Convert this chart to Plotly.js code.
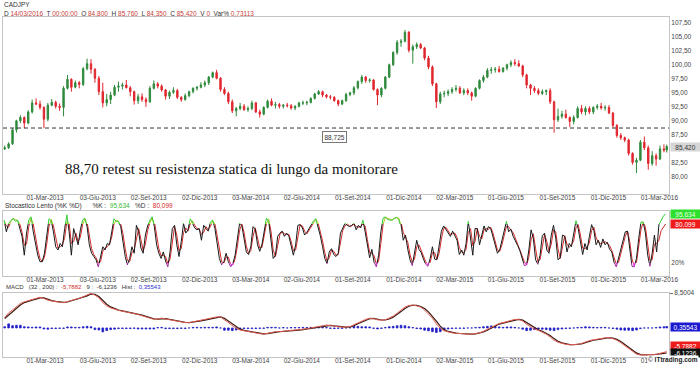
<!DOCTYPE html>
<html><head><meta charset="utf-8">
<script src="https://cdn.plot.ly/plotly-3.0.1.min.js"></script>
<style>html,body{margin:0;padding:0;background:#fff}#chart{width:700px;height:365px}</style>
</head><body><div id="chart"></div>
<script>
// ---------- DATA ----------
const symbol = 'CADJPY';
const weekStart = '2012-12-19';      // mid-week date of first weekly bar
const lastBarDate = '2016-03-14';
const open = [
85.0,85.2,85.9,88.4,90.0,90.6,89.6,91.6,93.2,93.0,
92.4,90.3,92.8,93.3,92.6,92.4,95.8,97.4,96.0,96.8,
96.5,99.3,100.2,99.2,97.6,95.2,93.2,93.8,94.6,96.0,
96.2,96.4,95.9,95.2,93.6,94.3,93.8,93.4,95.8,96.6,
96.2,95.5,94.4,95.1,95.4,94.2,93.8,94.5,95.2,95.8,
96.0,96.4,96.8,97.8,98.6,97.6,95.6,94.9,93.4,91.8,
92.2,92.6,92.0,92.2,93.2,91.6,91.2,92.4,93.5,92.8,
92.9,92.6,92.8,92.7,92.3,92.6,93.2,93.2,93.3,94.0,
94.8,95.2,94.6,94.3,94.2,93.6,93.0,93.6,94.7,95.0,
95.9,97.0,97.8,97.2,97.3,95.6,94.6,95.8,97.8,100.0,
102.2,104.0,104.2,105.8,102.6,103.2,103.6,103.0,101.2,99.6,
96.6,93.4,94.8,94.9,95.2,95.6,95.8,95.0,95.4,95.0,
94.4,95.8,97.2,97.8,99.0,99.1,99.2,98.8,99.4,100.0,
100.4,100.2,99.8,98.2,96.4,95.8,95.4,94.9,95.2,95.4,
93.4,90.2,90.8,91.2,90.6,89.9,90.6,92.2,91.6,92.2,
91.6,92.4,92.6,92.3,92.4,91.4,89.2,87.4,87.0,86.6,
84.2,82.6,83.0,86.2,85.2,82.4,83.8,83.2,85.0,84.8];
const high = [
85.6,86.2,88.7,90.2,91.0,90.8,91.9,93.8,94.0,93.6,
92.6,93.2,93.9,93.6,93.1,96.2,98.2,97.6,97.2,97.1,
99.6,101.1,101.0,99.4,98.0,96.8,94.8,95.2,96.4,97.0,
96.8,97.3,96.2,95.4,94.8,94.9,94.2,96.2,97.2,96.9,
96.5,95.7,95.4,96.0,95.7,94.4,94.9,95.4,96.0,96.2,
96.9,97.2,98.0,98.8,99.1,97.8,96.0,95.2,93.8,92.5,
93.2,93.0,92.6,93.6,93.4,92.0,92.6,93.8,94.0,93.4,
93.2,93.0,93.2,93.0,92.8,93.4,93.6,93.6,94.2,95.0,
95.5,95.4,94.8,94.6,94.4,93.8,93.8,95.0,95.2,96.2,
97.2,98.2,98.0,97.6,97.4,95.8,96.0,98.0,100.2,102.4,
104.4,104.6,106.2,106.0,103.6,104.0,103.9,103.2,101.6,99.9,
96.8,95.2,95.4,95.6,96.0,96.4,96.2,95.8,95.8,95.2,
96.0,97.4,98.2,99.4,99.6,99.6,99.8,99.6,100.2,100.8,
101.0,100.8,100.0,98.4,96.6,96.2,95.8,95.6,95.6,95.8,
93.6,92.2,91.8,92.0,90.8,91.0,92.6,92.8,92.6,92.6,
92.6,93.0,93.2,92.8,92.8,91.6,89.4,87.8,87.2,86.8,
84.4,83.4,86.6,87.2,85.6,84.6,84.2,85.6,85.8,85.76];
const low = [
84.8,85.0,85.7,87.9,89.6,88.7,89.4,91.3,92.8,92.0,
88.7,89.9,92.6,92.2,91.8,90.8,95.6,95.2,95.8,95.8,
96.2,99.0,98.4,96.8,94.6,92.4,92.6,93.0,94.4,95.2,
95.6,95.8,94.4,92.9,93.0,93.4,92.5,93.2,95.6,95.8,
95.2,93.8,93.9,94.8,93.9,93.4,93.6,94.2,94.9,95.4,
95.8,96.0,96.4,97.6,97.4,95.2,94.6,93.0,91.4,90.8,
91.9,91.8,91.6,91.9,91.4,90.6,91.0,92.2,92.6,92.2,
92.2,92.2,92.4,92.0,91.9,92.4,92.8,92.8,93.1,93.8,
94.6,94.2,94.0,93.8,93.4,92.6,92.8,93.4,94.4,94.6,
95.6,96.6,96.8,96.8,95.4,92.8,94.2,95.6,97.6,99.8,
101.8,103.2,104.0,102.2,100.2,102.8,102.8,100.8,99.2,96.2,
92.3,93.0,94.2,94.4,94.8,95.2,94.8,94.6,94.6,93.6,
94.2,95.6,96.8,97.6,98.4,98.6,98.6,98.6,99.0,99.6,
99.8,99.6,97.8,95.8,94.6,95.0,94.6,94.6,94.6,93.0,
87.9,89.8,90.4,90.4,88.9,89.4,90.4,91.2,91.0,91.2,
91.2,92.0,92.0,91.8,91.2,88.8,87.0,86.6,86.2,83.8,
82.2,80.7,82.8,84.8,81.3,82.0,82.0,83.0,84.4,84.35];
const close = [
85.2,85.9,88.4,90.0,90.6,89.6,91.6,93.2,93.0,92.4,
90.3,92.8,93.3,92.6,92.4,95.8,97.4,96.0,96.8,96.5,
99.3,100.2,99.2,97.6,95.2,93.2,93.8,94.6,96.0,96.2,
96.4,95.9,95.2,93.6,94.3,93.8,93.4,95.8,96.6,96.2,
95.5,94.4,95.1,95.4,94.2,93.8,94.5,95.2,95.8,96.0,
96.4,96.8,97.8,98.6,97.6,95.6,94.9,93.4,91.8,92.2,
92.6,92.0,92.2,93.2,91.6,91.2,92.4,93.5,92.8,92.9,
92.6,92.8,92.7,92.3,92.6,93.2,93.2,93.3,94.0,94.8,
95.2,94.6,94.3,94.2,93.6,93.0,93.6,94.7,95.0,95.9,
97.0,97.8,97.2,97.3,95.6,94.6,95.8,97.8,100.0,102.2,
104.0,104.2,105.8,102.6,103.2,103.6,103.0,101.2,99.6,96.6,
93.4,94.8,94.9,95.2,95.6,95.8,95.0,95.4,95.0,94.4,
95.8,97.2,97.8,99.0,99.1,99.2,98.8,99.4,100.0,100.4,
100.2,99.8,98.2,96.4,95.8,95.4,94.9,95.2,95.4,93.4,
90.2,90.8,91.2,90.6,89.9,90.6,92.2,91.6,92.2,91.6,
92.4,92.6,92.3,92.4,91.4,89.2,87.4,87.0,86.6,84.2,
82.6,83.0,86.2,85.2,82.4,83.8,83.2,85.0,84.8,85.42];

const stochStart = '2012-12-18';
const stochStepDays = 4;
const stochK = [
86,68,81,86,89,84,86,73,61,32,
66,86,91,68,50,32,22,22,35,63,
88,85,68,45,40,50,45,73,94,68,
32,73,58,48,71,86,89,76,48,35,
30,25,14,30,45,40,50,48,71,88,
84,84,76,53,30,17,27,45,35,78,
68,43,35,63,77,86,91,76,48,35,
27,37,23,14,37,73,78,48,30,53,
81,66,71,88,81,74,71,73,55,78,
73,69,83,86,73,50,27,17,22,35,
22,14,19,32,58,81,78,55,37,33,
45,76,72,48,38,49,73,89,84,53,
27,32,61,66,69,61,66,61,45,32,
48,78,79,74,63,67,73,79,85,88,
76,62,45,27,19,37,42,33,30,35,
66,73,81,78,76,78,81,71,78,74,
86,68,44,28,41,21,14,32,68,89,
91,87,86,86,89,90,87,79,55,63,
41,25,16,35,55,41,36,26,18,15,
27,45,26,25,45,69,77,72,66,61,
69,62,55,33,40,32,50,84,61,32,
73,73,48,65,77,68,76,73,59,45,
35,40,55,68,84,68,72,61,55,47,
39,27,16,17,40,71,58,25,18,32,
62,66,40,35,63,78,58,25,28,63,
61,37,50,45,63,85,73,52,33,50,
40,61,79,70,48,55,44,57,48,52,
41,37,21,14,27,41,54,68,69,37,
15,14,27,58,83,83,66,32,15,35,
63,37,79,86,92,95.634];
const stochD = [
84,77,75,84,88,87,85,80,67,47,
49,76,89,80,59,41,27,22,29,49,
76,87,77,57,43,45,48,59,84,81,
50,53,66,53,60,79,88,83,62,42,
33,28,20,22,38,43,45,49,60,80,
86,84,80,65,42,24,22,36,40,57,
73,56,39,49,70,82,89,84,62,42,
31,32,30,19,26,55,76,63,39,42,
67,74,69,80,85,78,73,72,64,67,
76,71,76,85,80,62,39,22,20,29,
29,18,17,26,45,70,80,67,46,35,
39,61,74,60,43,44,61,81,87,69,
40,30,47,64,68,65,64,64,53,39,
40,63,79,77,69,65,70,76,82,87,
82,69,54,36,23,28,40,38,32,33,
51,70,77,80,77,77,80,76,75,76,
80,77,56,36,35,31,18,23,50,79,
90,89,87,86,88,90,89,83,67,59,
52,33,21,26,45,48,39,31,22,17,
21,36,36,26,35,57,73,75,69,64,
65,66,59,44,37,36,41,67,73,47,
53,73,61,57,71,73,72,75,66,52,
40,38,48,62,76,76,70,67,58,51,
43,33,22,17,29,56,65,42,22,25,
47,64,53,38,49,71,68,42,27,46,
62,49,44,48,54,74,79,63,43,42,
45,51,70,75,59,52,50,51,53,50,
47,39,29,18,21,34,48,61,69,53,
26,15,21,43,71,83,75,49,24,25,
49,50,55,70,76,80.099];

const macdLine = [
2.5,3.7,4.4,5.2,6.0,6.4,6.7,6.9,7.2,7.5,
7.2,6.8,6.6,6.4,6.3,6.2,6.5,6.8,7.0,7.2,
7.6,8.1,8.5,8.0,7.4,6.2,5.4,4.9,4.5,4.3,
4.1,3.9,3.7,3.6,3.3,3.0,2.7,2.4,2.1,2.2,
2.4,2.2,2.0,1.8,1.6,1.5,1.3,1.3,1.5,1.7,
1.8,2.0,2.2,2.4,2.7,2.7,2.0,1.3,0.5,-0.1,
-0.5,-0.7,-0.9,-1.1,-1.3,-1.4,-1.5,-1.3,-1.1,-0.9,
-0.9,-0.8,-0.8,-0.7,-0.6,-0.5,-0.3,-0.2,0.0,0.2,
0.4,0.6,0.7,0.6,0.4,0.3,0.2,0.2,0.3,0.8,
1.3,1.7,2.1,2.4,2.3,2.0,1.9,2.0,2.4,2.9,
3.6,4.4,5.1,5.5,5.6,5.4,5.1,4.4,3.5,2.4,
1.0,-0.1,-0.7,-1.0,-1.2,-1.3,-1.4,-1.5,-1.5,-1.5,
-1.4,-1.2,-0.8,-0.3,0.3,0.8,1.1,1.3,1.6,1.9,
2.1,2.1,1.7,0.9,0.2,-0.3,-0.6,-1.0,-1.5,-2.2,
-3.0,-3.5,-3.8,-4.0,-4.1,-4.1,-4.0,-3.8,-3.4,-3.1,
-2.9,-2.8,-2.6,-2.4,-2.4,-2.6,-3.0,-3.6,-4.3,-5.0,
-5.8,-6.4,-6.6,-6.6,-6.6,-6.6,-6.5,-6.2,-5.9,-5.7882];
const macdSignal = [
2.3,3.1,4.05,4.8,5.6,6.2,6.55,6.8,7.05,7.35,
7.35,7.0,6.7,6.5,6.35,6.25,6.35,6.65,6.9,7.1,
7.4,7.85,8.3,8.25,7.7,6.8,5.8,5.15,4.7,4.4,
4.2,4.0,3.8,3.65,3.45,3.15,2.85,2.55,2.25,2.15,
2.3,2.3,2.1,1.9,1.7,1.55,1.4,1.3,1.4,1.6,
1.75,1.9,2.1,2.3,2.55,2.7,2.35,1.65,0.9,0.2,
-0.3,-0.6,-0.8,-1.0,-1.2,-1.35,-1.45,-1.4,-1.2,-1.0,
-0.9,-0.85,-0.8,-0.75,-0.65,-0.55,-0.4,-0.25,-0.1,0.1,
0.3,0.5,0.65,0.65,0.5,0.35,0.25,0.2,0.25,0.55,
1.05,1.5,1.9,2.25,2.35,2.15,1.95,1.95,2.2,2.65,
3.25,4.0,4.75,5.3,5.55,5.5,5.25,4.75,3.95,2.95,
1.7,0.45,-0.4,-0.85,-1.1,-1.25,-1.35,-1.45,-1.5,-1.5,
-1.45,-1.3,-1.0,-0.55,0.0,0.55,0.95,1.2,1.45,1.75,
2.0,2.1,1.9,1.3,0.55,-0.05,-0.45,-0.8,-1.25,-1.85,
-2.6,-3.25,-3.65,-3.9,-4.05,-4.1,-4.05,-3.9,-3.6,-3.25,
-3.0,-2.85,-2.7,-2.5,-2.4,-2.5,-2.8,-3.3,-3.95,-4.65,
-5.4,-6.1,-6.5,-6.6,-6.6,-6.6,-6.55,-6.35,-6.2,-6.1236];
const macdHist = [
0.3,1.0,0.55,0.65,0.65,0.3,0.25,0.15,0.25,0.25,
-0.25,-0.3,-0.15,-0.15,-0.1,-0.1,0.25,0.25,0.15,0.15,
0.3,0.4,0.3,-0.4,-0.5,-0.95,-0.65,-0.4,-0.3,-0.15,
-0.15,-0.15,-0.15,-0.1,-0.25,-0.25,-0.25,-0.25,-0.25,0.1,
0.15,-0.15,-0.15,-0.15,-0.15,-0.1,-0.15,0.0,0.15,0.15,
0.1,0.15,0.15,0.15,0.25,0.0,-0.55,-0.55,-0.65,-0.5,
-0.3,-0.15,-0.15,-0.15,-0.15,-0.1,-0.1,0.15,0.15,0.15,
0.0,0.1,0.0,0.1,0.1,0.1,0.15,0.1,0.15,0.15,
0.15,0.15,0.1,-0.1,-0.15,-0.1,-0.1,0.0,0.1,0.4,
0.4,0.3,0.3,0.25,-0.1,-0.25,-0.1,0.1,0.3,0.4,
0.55,0.65,0.55,0.3,0.1,-0.15,-0.25,-0.55,-0.7,-0.9,
-1.1,-0.9,-0.5,-0.25,-0.15,-0.1,-0.1,-0.1,0.0,0.0,
0.1,0.15,0.3,0.4,0.5,0.4,0.25,0.15,0.25,0.25,
0.15,0.0,-0.3,-0.65,-0.55,-0.4,-0.25,-0.3,-0.4,-0.55,
-0.65,-0.4,-0.25,-0.15,-0.1,0.0,0.1,0.15,0.3,0.25,
0.15,0.1,0.15,0.15,0.0,-0.15,-0.3,-0.5,-0.55,-0.55,
-0.65,-0.5,-0.15,0.0,0.0,0.0,0.1,0.25,0.3,0.35543];

const tickDates = ['2013-03-01','2013-06-03','2013-09-02','2013-12-02','2014-03-03','2014-06-02',
  '2014-09-01','2014-12-01','2015-03-02','2015-06-01','2015-09-01','2015-12-01','2016-03-01'];
const tickLabels = ['01-Mar-2013','03-Giu-2013','02-Set-2013','02-Dic-2013','03-Mar-2014','02-Giu-2014',
  '01-Set-2014','01-Dic-2014','02-Mar-2015','01-Giu-2015','01-Set-2015','01-Dic-2015','01-Mar-2016'];
const priceTicks = [80,82.5,85,87.5,90,92.5,95,97.5,100,102.5,105,107.5];
const levelValue = 88.725;
const levelLabel = '88,725';
const lastPriceLabel = '85,420';
const noteText = '88,70 retest su resistenza statica di lungo da monitorare';
const stochLabels = {k:'95,634', d:'80,099'};
const macdLabels = {macd:'-5,7882', signal:'-6,1236', hist:'0,35543', top:'8,5004'};
const macdMax = 8.5004;

// ---------- BUILD ----------
function addDays(s, n){const d=new Date(s+'T00:00:00Z');d.setUTCDate(d.getUTCDate()+n);return d.toISOString().slice(0,10);}
const weekDates = open.map((_,i)=> i===open.length-1 ? lastBarDate : addDays(weekStart,7*i));
const stochDates = stochK.map((_,k)=> addDays(stochStart, stochStepDays*k));

const W=700,H=365, L=3, R=31, T=17, B=8;
const pw=W-L-R, ph=H-T-B;
const ax = xp => (xp-L)/pw;
const ay = yp => (H-B-yp)/ph;
const dMain=[ay(194),1], dSto=[ay(276),ay(211)], dMacd=[0,ay(293)];
const F='Liberation Sans, Arial, sans-serif';
const tf={family:F,size:6.5,color:'#444'};
const xRange=['2012-12-16','2016-03-18'];
const gridC='#c4c4c4';

function xax(anchor){return {type:'date',range:xRange,anchor:anchor,domain:[0,1],tickmode:'array',
  tickvals:tickDates,ticktext:tickLabels,tickfont:tf,showline:true,mirror:true,linecolor:gridC,linewidth:1,
  showgrid:false,zeroline:false,ticks:'',ticklabelstandoff:-3,fixedrange:true,rangeslider:{visible:false},automargin:false};}

const traces=[
 {type:'candlestick',x:weekDates,open:open,high:high,low:low,close:close,xaxis:'x',yaxis:'y',whiskerwidth:0,
  increasing:{line:{color:'#2f8a3c',width:1},fillcolor:'#2f8a3c'},
  decreasing:{line:{color:'#e0262e',width:1},fillcolor:'#e0262e'},hoverinfo:'skip'},
 {type:'scatter',mode:'lines',x:stochDates,y:stochD,xaxis:'x2',yaxis:'y2',line:{color:'#d42a2a',width:1}},
 {type:'scatter',mode:'lines',x:stochDates,y:stochK,xaxis:'x2',yaxis:'y2',line:{color:'#1a1a1a',width:1}},
 {type:'scatter',mode:'lines',x:stochDates,y:stochD,xaxis:'x2',yaxis:'y4',line:{color:'#b8c020',width:1}},
 {type:'scatter',mode:'lines',x:stochDates,y:stochK,xaxis:'x2',yaxis:'y4',line:{color:'#33cc33',width:1}},
 {type:'scatter',mode:'lines',x:stochDates,y:stochK,xaxis:'x2',yaxis:'y5',line:{color:'#9a2a9a',width:1}},
 {type:'scatter',mode:'lines',x:stochDates,y:stochD,xaxis:'x2',yaxis:'y5',line:{color:'#dd33dd',width:1}},
 {type:'bar',x:weekDates,y:macdHist,xaxis:'x3',yaxis:'y3',width:3*86400000,
  marker:{color:'#1f1fc8',line:{color:'#1f1fc8',width:0.8}}},
 {type:'scatter',mode:'lines',x:weekDates,y:macdSignal,xaxis:'x3',yaxis:'y3',line:{color:'#3a1a12',width:1.2}},
 {type:'scatter',mode:'lines',x:weekDates,y:macdLine,xaxis:'x3',yaxis:'y3',line:{color:'#e05a50',width:1}}
];

function box(text,yref,y,bg,fc){return {xref:'paper',x:1,xanchor:'left',xshift:1,yref:yref,y:y,yanchor:'middle',
  text:text,showarrow:false,bgcolor:bg,font:{family:F,size:6.5,color:fc},width:28,height:7,borderpad:0.5,align:'center'};}
function lab(text,xp,yp,color,size,extra){return Object.assign({xref:'paper',yref:'paper',x:ax(xp),y:ay(yp),
  xanchor:'left',yanchor:'middle',text:text,showarrow:false,font:{family:F,size:size||6.5,color:color||'#333'}},extra||{});}
const rc='#c8403a';
const sp='&nbsp;&nbsp;&nbsp;';
const span=(c,t)=>'<span style="color:'+c+'">'+t+'</span>';
const annotations=[
 lab(symbol,2,5,'#333',6.5),
 lab('D '+span(rc,'14/03/2016')+'&nbsp; T '+span(rc,'00:00:00')+'&nbsp; O '+span(rc,'84,800')+'&nbsp; H '+span(rc,'85,760')+'&nbsp; L '+span(rc,'84,350')+'&nbsp; C '+span(rc,'85,420')+'&nbsp; V '+span(rc,'0')+'&nbsp; Var% '+span(rc,'0,73113'),2,13,'#333',6.5),
 lab(noteText,63,169,'#111',15,{font:{family:'Liberation Serif, Times New Roman, serif',size:15,color:'#111'}}),
 {xref:'paper',yref:'paper',x:ax(334),y:ay(137),xanchor:'center',yanchor:'middle',text:levelLabel,showarrow:false,
  font:{family:F,size:6.5,color:'#333'},bgcolor:'#fff',bordercolor:'#777',borderwidth:1,borderpad:1.5},
 box(lastPriceLabel,'y',85.42,'#d6d6d6','#333'),
 lab('Stocastico Lento (%K %D)'+sp+sp+'%K :&nbsp; '+span('#33bb33',stochLabels.k)+sp+'%D :&nbsp; '+span('#d42a2a',stochLabels.d),3,206,'#333',6.5),
 box(stochLabels.k,'y2',95.634,'#2ee02e','#eaffea'),
 box(stochLabels.d,'y2',80.099,'#ee1b1b','#fff'),
 lab('MACD'+sp+'(32 , 200) :&nbsp; '+span('#d42a2a',macdLabels.macd)+sp+'9 :&nbsp; '+span('#333',macdLabels.signal)+sp+'Hist :&nbsp; '+span('#2a2ad0',macdLabels.hist),4,287,'#333',6),
 box(macdLabels.hist,'y3',0.35543,'#1a1ad0','#fff'),
 box(macdLabels.macd,'y3',-4.45,'#ee1b1b','#fff'),
 box(macdLabels.signal,'y3',-6.1236,'#111','#fff'),
 {xref:'paper',yref:'paper',x:1,xanchor:'right',xshift:30,y:ay(360),yanchor:'middle',text:'©&nbsp;<b>ITtrading.com</b>',
  showarrow:false,font:{family:F,size:6.5,color:'#222'},bgcolor:'#fff',borderpad:0}
];

const layout={width:W,height:H,margin:{l:L,r:R,t:T,b:B},paper_bgcolor:'#fff',plot_bgcolor:'#fff',
 showlegend:false,separators:',.',font:{family:F,size:6.5,color:'#444'},bargap:0,
 xaxis:xax('y'),xaxis2:Object.assign(xax('y2'),{matches:'x'}),xaxis3:Object.assign(xax('y3'),{matches:'x'}),
 yaxis:{domain:dMain,range:[76.96,108.52],side:'right',anchor:'x',tickmode:'array',tickvals:priceTicks,tickformat:'.2f',
   tickfont:tf,showline:true,mirror:true,linecolor:gridC,showgrid:false,zeroline:false,ticks:'',fixedrange:true},
 yaxis2:{domain:dSto,range:[0,100],side:'right',anchor:'x2',tickmode:'array',tickvals:[20],ticktext:['20%'],
   tickfont:tf,showline:true,mirror:true,linecolor:gridC,showgrid:false,zeroline:false,ticks:'',fixedrange:true},
 yaxis3:{domain:dMacd,range:[-7.1,8.55],side:'right',anchor:'x3',tickmode:'array',tickvals:[macdMax],ticktext:[macdLabels.top],
   tickfont:tf,showline:true,mirror:true,linecolor:gridC,showgrid:false,zeroline:false,ticks:'outside',ticklen:3,tickcolor:'#666',fixedrange:true},
 yaxis4:{domain:[dSto[0]+0.8*(dSto[1]-dSto[0]),dSto[1]],range:[80,100],anchor:'x2',visible:false,fixedrange:true},
 yaxis5:{domain:[dSto[0],dSto[0]+0.2*(dSto[1]-dSto[0])],range:[0,20],anchor:'x2',visible:false,fixedrange:true},
 shapes:[{type:'line',xref:'paper',x0:0,x1:1,yref:'y',y0:levelValue,y1:levelValue,line:{color:'#333',width:1,dash:'4px,3px'}}],
 annotations:annotations};

Plotly.newPlot('chart',traces,layout,{staticPlot:true,displayModeBar:false});
</script></body></html>
